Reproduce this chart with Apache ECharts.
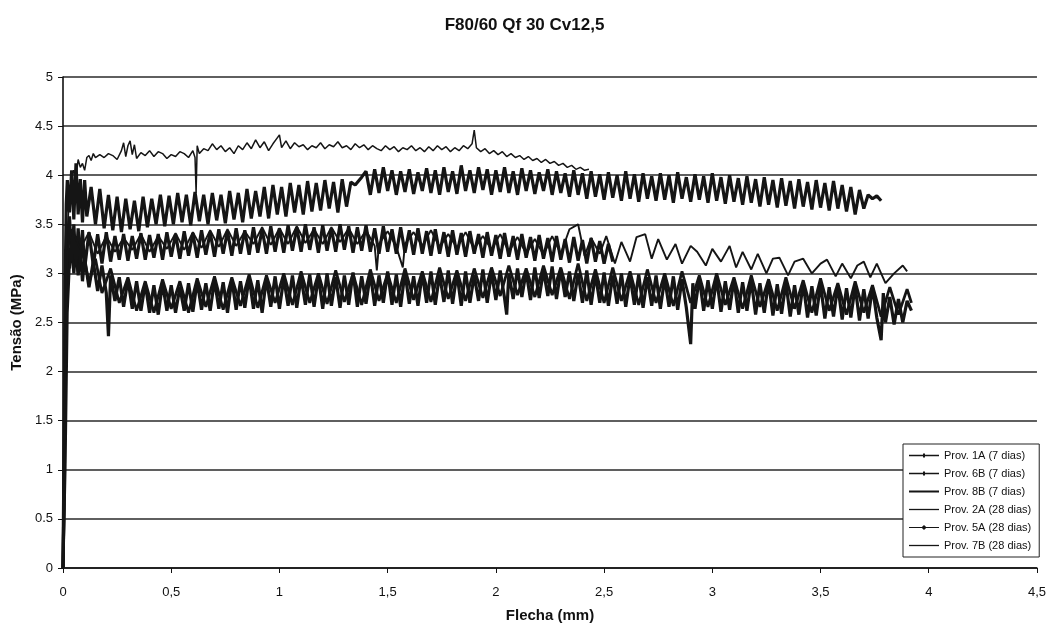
<!DOCTYPE html>
<html>
<head>
<meta charset="utf-8">
<script src="https://cdn.jsdelivr.net/npm/echarts@6/dist/echarts.min.js"></script>
<style>
  html, body { margin: 0; padding: 0; background: #fff; }
  #chart { width: 1049px; height: 628px; }
</style>
</head>
<body>
<div id="chart"></div>
<script>
// Flexural test curves: stress (MPa) vs. deflection (mm), six specimens.
const chartTitle = 'F80/60 Qf 30 Cv12,5';
const xTicks = ['0', '0,5', '1', '1,5', '2', '2,5', '3', '3,5', '4', '4,5'];
const yTicks = ['0', '0.5', '1', '1.5', '2', '2.5', '3', '3.5', '4', '4.5', '5'];
const seriesNames = [
  'Prov. 1A (7 dias)', 'Prov. 6B (7 dias)', 'Prov. 8B (7 dias)',
  'Prov. 2A (28 dias)', 'Prov. 5A (28 dias)', 'Prov. 7B (28 dias)'
];

// [deflection mm, stress MPa]
const prov1A = [[0,0],[0.005,0.65],[0.01,1.9],[0.015,2.9],[0.02,3.3],[0.03,3.05],[0.04,3.35],[0.05,3.0],[0.06,3.28],[0.07,2.98],[0.08,3.22],[0.09,2.92],[0.1,3.15],[0.12,2.86],[0.14,3.12],[0.16,2.82],[0.18,3.08],[0.2,2.8],[0.21,2.36],[0.22,2.98],[0.24,2.72],[0.26,2.96],[0.28,2.66],[0.3,2.94],[0.32,2.64],[0.34,2.92],[0.36,2.62],[0.38,2.9],[0.4,2.6],[0.42,2.88],[0.44,2.58],[0.46,2.9],[0.48,2.62],[0.5,2.88],[0.52,2.6],[0.54,2.86],[0.56,2.62],[0.58,2.9],[0.6,2.61],[0.62,2.92],[0.64,2.63],[0.66,2.9],[0.68,2.62],[0.7,2.93],[0.72,2.64],[0.74,2.91],[0.76,2.6],[0.78,2.94],[0.8,2.63],[0.82,2.92],[0.84,2.65],[0.86,2.96],[0.88,2.64],[0.9,2.93],[0.92,2.6],[0.94,2.95],[0.96,2.66],[0.98,2.97],[1.0,2.64],[1.02,2.95],[1.04,2.67],[1.06,2.98],[1.08,2.65],[1.1,2.96],[1.12,2.68],[1.14,2.99],[1.16,2.66],[1.18,2.97],[1.2,2.64],[1.22,3.0],[1.24,2.67],[1.26,2.96],[1.28,2.65],[1.3,2.98],[1.32,2.68],[1.34,3.01],[1.36,2.66],[1.38,2.97],[1.4,2.69],[1.42,3.0],[1.44,2.67],[1.46,2.98],[1.48,2.7],[1.5,3.02],[1.52,2.68],[1.54,2.99],[1.56,2.66],[1.58,3.01],[1.6,2.69],[1.62,2.97],[1.64,2.67],[1.66,3.0],[1.68,2.7],[1.7,3.02],[1.72,2.68],[1.74,2.99],[1.76,2.71],[1.78,3.03],[1.8,2.69],[1.82,3.0],[1.84,2.67],[1.86,3.02],[1.88,2.7],[1.9,2.98],[1.92,2.72],[1.94,3.04],[1.96,2.7],[1.98,3.01],[2.0,2.73],[2.02,3.03],[2.04,2.75],[2.05,2.58],[2.06,3.0],[2.08,2.74],[2.1,3.05],[2.12,2.76],[2.14,3.02],[2.16,2.73],[2.18,3.06],[2.2,2.75],[2.22,3.03],[2.24,2.77],[2.26,3.07],[2.28,2.74],[2.3,3.04],[2.32,2.76],[2.34,3.02],[2.36,2.72],[2.38,3.0],[2.4,2.7],[2.42,3.03],[2.44,2.68],[2.46,2.99],[2.48,2.7],[2.5,3.01],[2.52,2.67],[2.54,2.98],[2.56,2.69],[2.58,3.0],[2.6,2.66],[2.62,2.97],[2.64,2.68],[2.66,2.99],[2.68,2.65],[2.7,2.96],[2.72,2.67],[2.74,2.98],[2.76,2.64],[2.78,2.95],[2.8,2.66],[2.82,2.97],[2.84,2.63],[2.86,2.94],[2.88,2.65],[2.9,2.28],[2.91,2.9],[2.92,2.64],[2.94,2.96],[2.96,2.62],[2.98,2.93],[3.0,2.64],[3.02,2.95],[3.04,2.61],[3.06,2.92],[3.08,2.63],[3.1,2.94],[3.12,2.6],[3.14,2.91],[3.16,2.62],[3.18,2.93],[3.2,2.58],[3.22,2.9],[3.24,2.6],[3.26,2.92],[3.28,2.57],[3.3,2.89],[3.32,2.59],[3.34,2.91],[3.36,2.56],[3.38,2.88],[3.4,2.58],[3.42,2.9],[3.44,2.55],[3.46,2.87],[3.48,2.57],[3.5,2.89],[3.52,2.54],[3.54,2.86],[3.56,2.56],[3.58,2.88],[3.6,2.53],[3.62,2.85],[3.64,2.55],[3.66,2.87],[3.68,2.52],[3.7,2.84],[3.72,2.54],[3.74,2.86],[3.76,2.55],[3.78,2.32],[3.79,2.8],[3.8,2.5],[3.82,2.76],[3.84,2.48],[3.86,2.74],[3.88,2.5],[3.9,2.72],[3.92,2.62]];

const prov6B = [[0,0],[0.01,1.0],[0.02,2.6],[0.03,3.1],[0.05,3.3],[0.07,3.0],[0.09,3.25],[0.12,2.9],[0.15,3.15],[0.18,2.8],[0.22,3.05],[0.26,2.7],[0.3,2.96],[0.34,2.62],[0.38,2.92],[0.42,2.6],[0.46,2.94],[0.5,2.64],[0.54,2.92],[0.58,2.6],[0.62,2.95],[0.66,2.66],[0.7,2.97],[0.74,2.63],[0.78,2.96],[0.82,2.67],[0.86,2.99],[0.9,2.65],[0.94,2.98],[0.98,2.7],[1.02,3.0],[1.06,2.68],[1.1,3.02],[1.14,2.7],[1.18,3.0],[1.22,2.69],[1.26,3.03],[1.3,2.71],[1.34,3.0],[1.38,2.68],[1.42,3.04],[1.46,2.72],[1.5,3.0],[1.54,2.7],[1.58,3.05],[1.62,2.73],[1.66,3.02],[1.7,2.71],[1.74,3.06],[1.78,2.74],[1.82,3.03],[1.86,2.72],[1.9,3.05],[1.94,2.75],[1.98,3.06],[2.02,2.77],[2.06,3.08],[2.1,2.78],[2.14,3.05],[2.18,2.76],[2.22,3.08],[2.26,2.78],[2.3,3.06],[2.34,2.74],[2.38,3.1],[2.42,2.72],[2.46,3.04],[2.5,2.7],[2.54,3.06],[2.58,2.72],[2.62,3.02],[2.66,2.68],[2.7,3.04],[2.74,2.7],[2.78,3.0],[2.82,2.67],[2.86,3.02],[2.9,2.7],[2.94,2.98],[2.98,2.66],[3.02,3.0],[3.06,2.68],[3.1,2.96],[3.14,2.64],[3.18,2.98],[3.22,2.66],[3.26,2.94],[3.3,2.62],[3.34,2.96],[3.38,2.64],[3.42,2.93],[3.46,2.6],[3.5,2.95],[3.54,2.62],[3.58,2.9],[3.62,2.58],[3.66,2.92],[3.7,2.6],[3.74,2.88],[3.78,2.56],[3.82,2.86],[3.86,2.58],[3.9,2.84],[3.92,2.7]];

const prov8B = [[0,0],[0.005,0.8],[0.01,2.4],[0.02,3.3],[0.03,3.58],[0.04,3.12],[0.05,3.5],[0.06,3.08],[0.07,3.46],[0.08,3.1],[0.09,3.44],[0.1,3.05],[0.12,3.42],[0.14,3.08],[0.16,3.4],[0.18,3.1],[0.2,3.42],[0.22,3.12],[0.24,3.38],[0.26,3.14],[0.28,3.4],[0.3,3.13],[0.32,3.38],[0.34,3.15],[0.36,3.41],[0.38,3.14],[0.4,3.39],[0.42,3.16],[0.44,3.4],[0.46,3.14],[0.48,3.42],[0.5,3.17],[0.52,3.4],[0.54,3.15],[0.56,3.43],[0.58,3.18],[0.6,3.41],[0.62,3.16],[0.64,3.44],[0.66,3.19],[0.68,3.42],[0.7,3.17],[0.72,3.45],[0.74,3.2],[0.76,3.43],[0.78,3.18],[0.8,3.46],[0.82,3.2],[0.84,3.44],[0.86,3.19],[0.88,3.47],[0.9,3.21],[0.92,3.45],[0.94,3.2],[0.96,3.48],[0.98,3.22],[1.0,3.46],[1.02,3.21],[1.04,3.49],[1.06,3.23],[1.08,3.47],[1.1,3.22],[1.12,3.5],[1.14,3.24],[1.16,3.47],[1.18,3.21],[1.2,3.49],[1.22,3.23],[1.24,3.46],[1.26,3.22],[1.28,3.5],[1.3,3.24],[1.32,3.48],[1.34,3.21],[1.36,3.47],[1.38,3.23],[1.4,3.49],[1.42,3.22],[1.44,3.46],[1.46,3.2],[1.48,3.48],[1.5,3.22],[1.52,3.45],[1.54,3.2],[1.56,3.47],[1.58,3.21],[1.6,3.44],[1.62,3.19],[1.64,3.46],[1.66,3.2],[1.68,3.43],[1.7,3.18],[1.72,3.45],[1.74,3.2],[1.76,3.42],[1.78,3.17],[1.8,3.44],[1.82,3.19],[1.84,3.41],[1.86,3.17],[1.88,3.43],[1.9,3.2],[1.92,3.4],[1.94,3.16],[1.96,3.42],[1.98,3.18],[2.0,3.39],[2.02,3.15],[2.04,3.41],[2.06,3.17],[2.08,3.38],[2.1,3.14],[2.12,3.4],[2.14,3.16],[2.16,3.37],[2.18,3.13],[2.2,3.39],[2.22,3.15],[2.24,3.36],[2.26,3.12],[2.28,3.38],[2.3,3.14],[2.32,3.35],[2.34,3.11],[2.36,3.37],[2.38,3.13],[2.4,3.34],[2.42,3.1],[2.44,3.36],[2.46,3.12],[2.48,3.33],[2.5,3.1],[2.52,3.3],[2.54,3.12]];

const prov2A = [[0,0],[0.01,2.2],[0.02,3.4],[0.03,3.8],[0.04,3.96],[0.05,4.05],[0.06,3.98],[0.07,4.16],[0.08,4.08],[0.09,4.12],[0.1,4.05],[0.11,4.18],[0.12,4.2],[0.13,4.15],[0.14,4.22],[0.15,4.18],[0.17,4.21],[0.19,4.18],[0.21,4.22],[0.23,4.2],[0.25,4.16],[0.27,4.25],[0.28,4.33],[0.29,4.19],[0.3,4.3],[0.31,4.35],[0.32,4.21],[0.33,4.31],[0.34,4.17],[0.36,4.23],[0.38,4.2],[0.4,4.25],[0.42,4.19],[0.44,4.24],[0.46,4.22],[0.48,4.17],[0.5,4.21],[0.52,4.19],[0.54,4.24],[0.56,4.22],[0.58,4.18],[0.6,4.25],[0.61,4.18],[0.615,3.82],[0.62,4.3],[0.63,4.22],[0.65,4.27],[0.67,4.25],[0.69,4.32],[0.71,4.26],[0.73,4.3],[0.75,4.24],[0.77,4.28],[0.79,4.22],[0.81,4.3],[0.83,4.26],[0.85,4.33],[0.87,4.27],[0.89,4.36],[0.91,4.28],[0.93,4.34],[0.95,4.25],[0.97,4.32],[0.99,4.38],[1.0,4.41],[1.01,4.28],[1.03,4.35],[1.05,4.27],[1.07,4.33],[1.09,4.29],[1.11,4.31],[1.13,4.26],[1.15,4.3],[1.17,4.28],[1.19,4.33],[1.21,4.27],[1.23,4.31],[1.25,4.29],[1.27,4.34],[1.29,4.28],[1.31,4.3],[1.33,4.26],[1.35,4.32],[1.37,4.28],[1.39,4.31],[1.41,4.26],[1.43,4.3],[1.45,4.27],[1.47,4.25],[1.49,4.3],[1.51,4.26],[1.53,4.29],[1.55,4.24],[1.57,4.28],[1.59,4.26],[1.61,4.3],[1.63,4.25],[1.65,4.28],[1.67,4.24],[1.69,4.29],[1.71,4.25],[1.73,4.3],[1.75,4.26],[1.77,4.29],[1.79,4.24],[1.81,4.28],[1.83,4.25],[1.85,4.3],[1.87,4.27],[1.89,4.32],[1.9,4.46],[1.91,4.28],[1.93,4.24],[1.95,4.27],[1.97,4.22],[1.99,4.25],[2.01,4.21],[2.03,4.24],[2.05,4.19],[2.07,4.22],[2.09,4.18],[2.11,4.2],[2.13,4.16],[2.15,4.19],[2.17,4.15],[2.19,4.17],[2.21,4.13],[2.23,4.16],[2.25,4.12],[2.27,4.14],[2.29,4.1],[2.31,4.12],[2.33,4.08],[2.35,4.1],[2.37,4.06],[2.39,4.08],[2.41,4.05],[2.43,4.06]];

const prov5A = [[0,0],[0.005,1.3],[0.01,2.9],[0.015,3.7],[0.02,3.95],[0.03,3.62],[0.04,4.05],[0.05,3.55],[0.06,4.12],[0.07,3.6],[0.08,3.96],[0.09,3.52],[0.1,3.95],[0.11,3.58],[0.13,3.88],[0.15,3.5],[0.17,3.86],[0.19,3.46],[0.21,3.8],[0.23,3.44],[0.25,3.78],[0.27,3.42],[0.29,3.76],[0.31,3.45],[0.33,3.74],[0.35,3.43],[0.37,3.78],[0.39,3.47],[0.41,3.76],[0.43,3.5],[0.45,3.8],[0.47,3.48],[0.49,3.79],[0.51,3.5],[0.53,3.82],[0.55,3.52],[0.57,3.8],[0.59,3.49],[0.61,3.83],[0.63,3.53],[0.65,3.8],[0.67,3.5],[0.69,3.82],[0.71,3.54],[0.73,3.8],[0.75,3.51],[0.77,3.84],[0.79,3.55],[0.81,3.82],[0.83,3.52],[0.85,3.86],[0.87,3.56],[0.89,3.84],[0.91,3.58],[0.93,3.88],[0.95,3.56],[0.97,3.9],[0.99,3.6],[1.01,3.88],[1.03,3.58],[1.05,3.92],[1.07,3.62],[1.09,3.9],[1.11,3.6],[1.13,3.94],[1.15,3.63],[1.17,3.92],[1.19,3.64],[1.21,3.95],[1.23,3.66],[1.25,3.93],[1.27,3.62],[1.29,3.96],[1.31,3.68],[1.33,3.93],[1.35,3.9],[1.38,3.98],[1.4,4.04],[1.42,3.8],[1.44,4.06],[1.46,3.82],[1.48,4.08],[1.5,3.84],[1.52,4.05],[1.54,3.8],[1.56,4.04],[1.58,3.83],[1.6,4.06],[1.62,3.81],[1.64,4.03],[1.66,3.84],[1.68,4.07],[1.7,3.82],[1.72,4.05],[1.74,3.8],[1.76,4.08],[1.78,3.83],[1.8,4.04],[1.82,3.81],[1.84,4.1],[1.86,3.84],[1.88,4.05],[1.9,3.82],[1.92,4.08],[1.94,3.85],[1.96,4.06],[1.98,3.8],[2.0,4.05],[2.02,3.83],[2.04,4.08],[2.06,3.82],[2.08,4.04],[2.1,3.8],[2.12,4.07],[2.14,3.84],[2.16,4.05],[2.18,3.81],[2.2,4.03],[2.22,3.84],[2.24,4.06],[2.26,3.8],[2.28,4.04],[2.3,3.82],[2.32,4.02],[2.34,3.78],[2.36,4.05],[2.38,3.8],[2.4,4.02],[2.42,3.76],[2.44,4.04],[2.46,3.78],[2.48,4.01],[2.5,3.75],[2.52,4.03],[2.54,3.77],[2.56,4.0],[2.58,3.74],[2.6,4.04],[2.62,3.76],[2.64,4.01],[2.66,3.73],[2.68,4.02],[2.7,3.76],[2.72,3.99],[2.74,3.74],[2.76,4.02],[2.78,3.75],[2.8,4.0],[2.82,3.72],[2.84,4.03],[2.86,3.76],[2.88,3.98],[2.9,3.73],[2.92,4.01],[2.94,3.75],[2.96,3.99],[2.98,3.72],[3.0,4.02],[3.02,3.74],[3.04,3.98],[3.06,3.71],[3.08,4.0],[3.1,3.73],[3.12,3.97],[3.14,3.7],[3.16,3.99],[3.18,3.72],[3.2,3.96],[3.22,3.68],[3.24,3.98],[3.26,3.7],[3.28,3.95],[3.3,3.67],[3.32,3.97],[3.34,3.69],[3.36,3.94],[3.38,3.66],[3.4,3.96],[3.42,3.68],[3.44,3.93],[3.46,3.65],[3.48,3.95],[3.5,3.67],[3.52,3.92],[3.54,3.64],[3.56,3.94],[3.58,3.66],[3.6,3.9],[3.62,3.63],[3.64,3.88],[3.66,3.6],[3.68,3.85],[3.7,3.66],[3.72,3.8],[3.74,3.76],[3.76,3.79],[3.78,3.74]];

const prov7B = [[0,0],[0.01,2.0],[0.02,3.2],[0.04,3.45],[0.08,3.25],[0.12,3.42],[0.16,3.2],[0.2,3.38],[0.24,3.22],[0.28,3.36],[0.32,3.24],[0.36,3.4],[0.4,3.22],[0.44,3.38],[0.48,3.25],[0.52,3.41],[0.56,3.24],[0.6,3.42],[0.64,3.26],[0.68,3.44],[0.72,3.27],[0.76,3.45],[0.8,3.28],[0.84,3.43],[0.88,3.3],[0.92,3.47],[0.96,3.29],[1.0,3.46],[1.04,3.3],[1.08,3.48],[1.12,3.31],[1.16,3.45],[1.2,3.3],[1.24,3.47],[1.28,3.32],[1.32,3.46],[1.36,3.3],[1.4,3.44],[1.44,3.28],[1.45,3.03],[1.46,3.3],[1.5,3.43],[1.54,3.27],[1.57,3.06],[1.58,3.3],[1.62,3.42],[1.66,3.28],[1.7,3.44],[1.74,3.27],[1.78,3.4],[1.82,3.26],[1.86,3.42],[1.9,3.25],[1.94,3.38],[1.98,3.24],[2.02,3.4],[2.06,3.22],[2.1,3.37],[2.14,3.2],[2.18,3.35],[2.22,3.19],[2.26,3.38],[2.3,3.2],[2.34,3.45],[2.38,3.5],[2.41,3.18],[2.44,3.36],[2.48,3.2],[2.51,3.38],[2.55,3.1],[2.58,3.32],[2.62,3.12],[2.65,3.37],[2.69,3.4],[2.72,3.15],[2.75,3.35],[2.79,3.14],[2.83,3.3],[2.86,3.1],[2.9,3.28],[2.93,3.22],[2.97,3.08],[3.0,3.25],[3.04,3.12],[3.08,3.28],[3.11,3.06],[3.14,3.22],[3.18,3.04],[3.21,3.2],[3.25,3.0],[3.28,3.15],[3.31,3.16],[3.35,2.98],[3.38,3.12],[3.42,3.15],[3.46,3.0],[3.5,3.1],[3.53,3.14],[3.57,2.97],[3.6,3.1],[3.64,2.95],[3.67,3.08],[3.7,3.12],[3.73,2.96],[3.76,3.1],[3.8,2.9],[3.84,3.0],[3.88,3.08],[3.9,3.02]];

const seriesData = [prov1A, prov6B, prov8B, prov2A, prov5A, prov7B];

// legend samples: plain line, line with tick marker, heavy line, line with dot
const iconThin = 'path://M0,0H30V1.3H0Z';
const iconTick = 'path://M0,1.4H30V2.8H0Z M14,0H16V4.2H14Z';
const iconHeavy = 'path://M0,0H30V2H0Z';
const iconDot = 'path://M0,2H30V3.2H0Z M15,0L17.6,2.6L15,5.2L12.4,2.6Z';
const legendIcons = [iconTick, iconTick, iconHeavy, iconThin, iconDot, iconThin];
const lineWidths = [3.2, 2.8, 3.2, 1.5, 3.2, 1.9];

const ink = '#151515';
const font = 'Liberation Sans, Arial, Helvetica, sans-serif';

const chart = echarts.init(document.getElementById('chart'), null, { renderer: 'canvas' });

chart.setOption({
  animation: false,
  backgroundColor: '#ffffff',
  title: {
    text: chartTitle,
    left: 'center',
    top: 12,
    textStyle: { fontFamily: font, fontSize: 17, fontWeight: 'bold', color: '#111' }
  },
  legend: {
    orient: 'vertical',
    left: 903,
    top: 444,
    align: 'left',
    itemWidth: 30,
    itemHeight: 10,
    itemGap: 7,
    padding: [6, 8, 6, 6],
    borderColor: '#222',
    borderWidth: 1,
    backgroundColor: '#fff',
    symbolKeepAspect: true,
    itemStyle: { borderWidth: 0 },
    textStyle: { fontFamily: font, fontSize: 11, color: '#111' },
    data: seriesNames.map((n, i) => ({ name: n, icon: legendIcons[i] }))
  },
  grid: { left: 63, right: 11, top: 77, bottom: 56, containLabel: false },
  xAxis: {
    type: 'value',
    min: 0,
    max: 4.5,
    interval: 0.5,
    name: 'Flecha (mm)',
    nameLocation: 'middle',
    nameGap: 40,
    nameTextStyle: { fontFamily: font, fontSize: 15, fontWeight: 'bold', color: '#111' },
    axisLine: { show: true, onZero: false, lineStyle: { color: '#111', width: 1.5 } },
    axisTick: { show: true, inside: false, length: 5, lineStyle: { color: '#111', width: 1 } },
    axisLabel: {
      margin: 18,
      fontFamily: font, fontSize: 13, color: '#111',
      formatter: (v, i) => xTicks[i]
    },
    splitLine: { show: false }
  },
  yAxis: {
    type: 'value',
    min: 0,
    max: 5,
    interval: 0.5,
    name: 'Tensão (MPa)',
    nameLocation: 'middle',
    nameGap: 37,
    nameTextStyle: { fontFamily: font, fontSize: 15, fontWeight: 'bold', color: '#111' },
    axisLine: { show: true, lineStyle: { color: '#111', width: 1.6 } },
    axisTick: { show: true, inside: false, length: 5, lineStyle: { color: '#111', width: 1 } },
    axisLabel: {
      margin: 10,
      fontFamily: font, fontSize: 13, color: '#111',
      formatter: (v, i) => yTicks[i]
    },
    splitLine: { show: true, lineStyle: { color: '#2a2a2a', width: 1.6 } }
  },
  series: seriesNames.map((n, i) => ({
    name: n,
    type: 'line',
    data: seriesData[i],
    showSymbol: false,
    symbol: 'none',
    smooth: false,
    color: ink,
    lineStyle: { color: ink, width: lineWidths[i], join: 'bevel' },
    emphasis: { disabled: true }
  }))
});
</script>
</body>
</html>
